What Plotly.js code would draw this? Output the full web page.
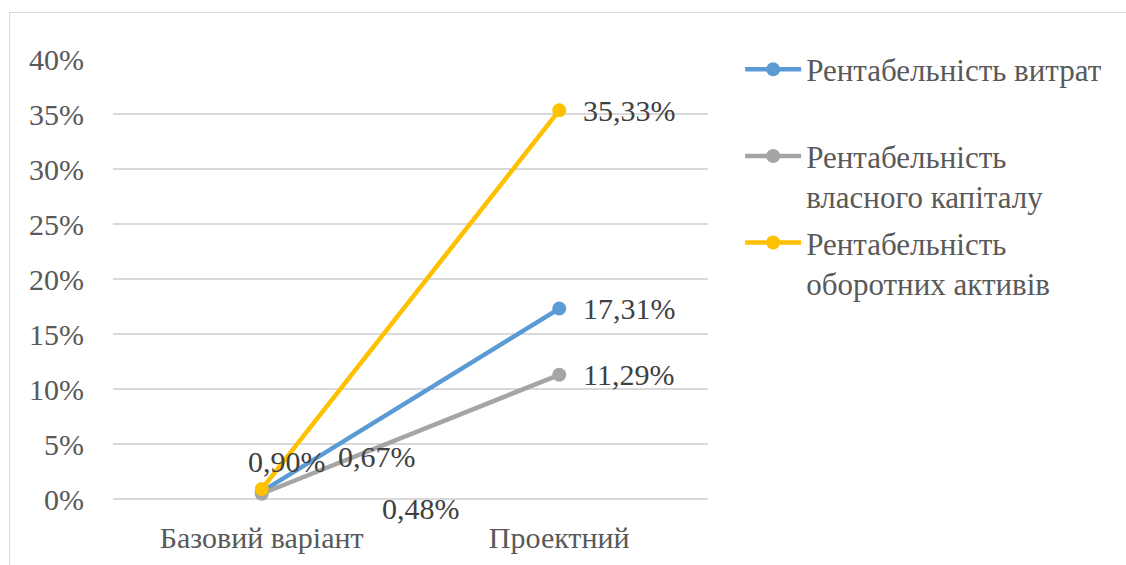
<!DOCTYPE html>
<html>
<head>
<meta charset="utf-8">
<script src="https://cdn.plot.ly/plotly-3.0.1.min.js"></script>
<style>
  html, body { margin:0; padding:0; background:#fff; overflow:hidden; }
  #frame { position:absolute; left:9px; top:12px; width:1300px; height:700px; border-left:1px solid #d9d9d9; border-top:1px solid #d9d9d9; }
  #chart { position:absolute; left:0; top:0; width:1126px; height:565px; }
</style>
</head>
<body>
<div id="frame"></div>
<div id="chart"></div>
<script>
const categories = ["Базовий варіант", "Проектний"];
const seriesNames = ["Рентабельність витрат", "Рентабельність<br>власного капіталу", "Рентабельність<br>оборотних активів"];
const costReturn = [0.0067, 0.1731];
const equityReturn = [0.0048, 0.1129];
const assetsReturn = [0.0090, 0.3533];
const labelsCost = ["0,67%", "17,31%"];
const labelsEquity = ["0,48%", "11,29%"];
const labelsAssets = ["0,90%", "35,33%"];
const colors = ["#5B9BD5", "#A5A5A5", "#FFC000"];

const FONT = "'Liberation Serif', serif";
const series = [
  {name: seriesNames[0] + "<br>&nbsp;", y: costReturn, labels: labelsCost, color: colors[0]},
  {name: seriesNames[1], y: equityReturn, labels: labelsEquity, color: colors[1]},
  {name: seriesNames[2], y: assetsReturn, labels: labelsAssets, color: colors[2]}
];

const traces = series.map((s, i) => ({
  type: "scatter",
  mode: "lines+markers",
  name: s.name,
  legendgroup: "g" + i,
  x: categories,
  y: s.y,
  line: {color: s.color, width: 4.5},
  marker: {color: s.color, size: 14},
  cliponaxis: false,
  hoverinfo: "skip"
}));

// data labels placed like the reference (offsets are styling only)
const leftShifts = [
  {xshift: 115, yshift: 35},   // cost
  {xshift: 159, yshift: -15},  // equity
  {xshift: 25, yshift: 28}     // assets
];
const annotations = [];
series.forEach((s, i) => {
  annotations.push({
    x: categories[0], y: s.y[0], xref: "x", yref: "y",
    text: s.labels[0], showarrow: false,
    xshift: leftShifts[i].xshift, yshift: leftShifts[i].yshift,
    font: {family: FONT, size: 30, color: "#404040"}
  });
  annotations.push({
    x: categories[1], y: s.y[1], xref: "x", yref: "y",
    text: s.labels[1], showarrow: false, xanchor: "left",
    xshift: 22, yshift: 0,
    font: {family: FONT, size: 30, color: "#404040"}
  });
});

const layout = {
  width: 1126, height: 565,
  margin: {l: 113, r: 418, t: 59, b: 66, pad: 0},
  paper_bgcolor: "rgba(0,0,0,0)",
  plot_bgcolor: "rgba(0,0,0,0)",
  font: {family: FONT, size: 30, color: "#595959"},
  showlegend: true,
  legend: {
    x: 1.054, xanchor: "left", y: 1.037, yanchor: "top",
    orientation: "v", valign: "top",
    font: {family: FONT, size: 31, color: "#595959"},
    itemwidth: 56, tracegroupgap: 3,
    bgcolor: "rgba(0,0,0,0)"
  },
  xaxis: {
    type: "category", range: [-0.5, 1.5],
    showgrid: false, zeroline: false,
    showline: false, ticks: "",
    ticklabelstandoff: 18,
    tickfont: {family: FONT, size: 30, color: "#595959"},
    fixedrange: true
  },
  yaxis: {
    range: [0, 0.4], dtick: 0.05, tickformat: ".0%",
    showgrid: true, gridcolor: "#d9d9d9", gridwidth: 1.5,
    zeroline: true, zerolinecolor: "#d9d9d9", zerolinewidth: 1.5,
    showline: false, ticks: "",
    ticklabelstandoff: 28,
    tickfont: {family: FONT, size: 30, color: "#595959"},
    fixedrange: true
  },
  annotations: annotations
};

Plotly.newPlot("chart", traces, layout, {staticPlot: true, displayModeBar: false});
</script>
</body>
</html>
